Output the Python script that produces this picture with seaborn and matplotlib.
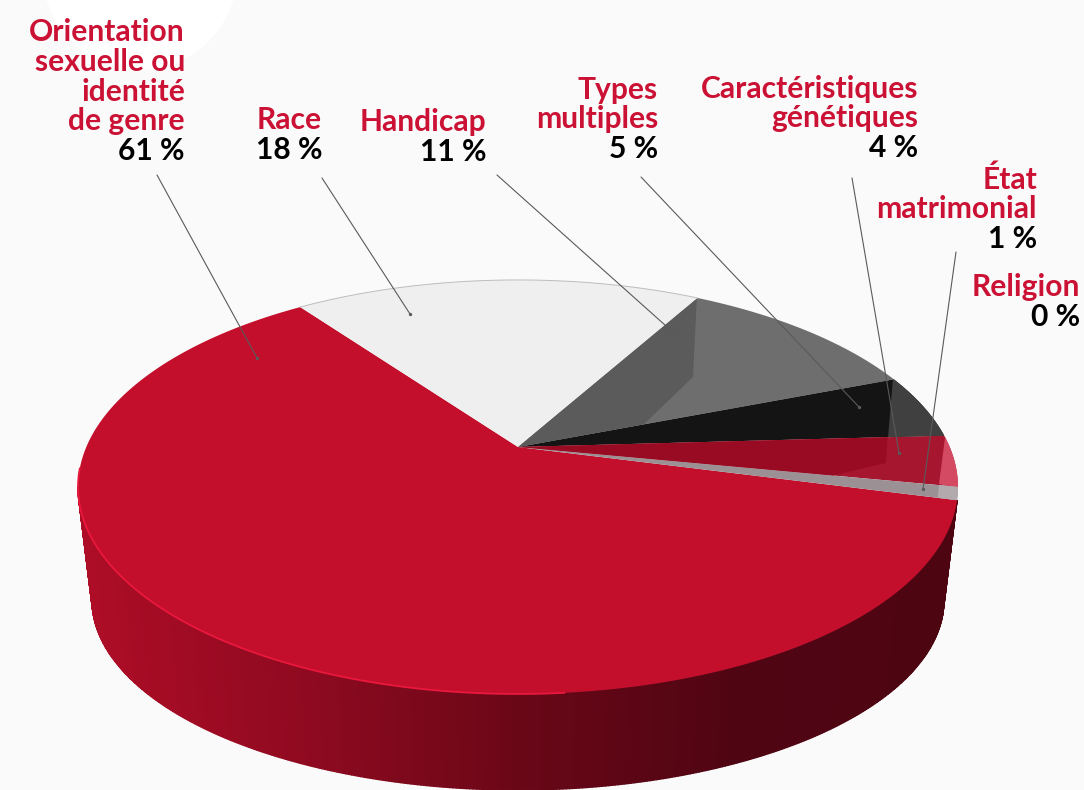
#!/usr/bin/env python3
import numpy as np
import matplotlib
matplotlib.use('Agg')
import matplotlib.pyplot as plt
import seaborn as sns
from matplotlib.patches import Ellipse
from matplotlib.path import Path
from matplotlib.transforms import Affine2D, Transform

# Data, in the order the slices run clockwise
categories = ['Orientation\nsexuelle ou\nidentité\nde genre', 'Race', 'Handicap', 'Types\nmultiples',
              'Caractéristiques\ngénétiques', 'État\nmatrimonial', 'Religion']
shares = [61, 18, 11, 5, 4, 1, 0]
slice_colors = ['#C30E2C', '#EFEFEF', '#6E6E6E', '#141414', '#A6172F', '#9B9195', '#9B9195']

# Layout in picture pixels
W, H = 1084, 790
APEX_X, APEX_Y = 518, 447
K, B, A = 0.193, 199.3, 431.7  # tilt of the disc
START = -14.7
label_right = [185, 322, 486, 658, 918, 1037, 1080]
label_base = [160, 159, 161, 158, 157, 248, 326]
leader_from = [(157, 175), (322, 178), (497, 175), (641, 177), (852, 178), (956, 252)]
leader_to = [(257, 358), (410, 314), (675, 334), (859, 407), (899, 453), (923, 489)]
LINE_H = 29.7

sns.set_theme(style='white')
plt.rcParams['font.family'] = ['Lato', 'DejaVu Sans']
RED_TEXT = '#CB1134'
FONT_SIZE = 21.6


def project(u, v):
    """Unit disc to picture pixels, with the perspective of the top face."""
    d = 1 + K * np.asarray(v)
    return APEX_X + A * np.asarray(u) / d, APEX_Y - B * np.asarray(v) / d


def project_bottom(u, v):
    x, y = project(u, v)
    return APEX_X + (x - APEX_X) * 426 / 440, 600 + (y - 487) * 190 / 207


class DiscTransform(Transform):
    input_dims = output_dims = 2
    is_separable = False

    def transform_non_affine(self, values):
        values = np.asarray(values, dtype=float)
        x, y = project(values[:, 0], values[:, 1])
        return np.column_stack([x, y])

    def transform_path_non_affine(self, path):
        polys = path.to_polygons(transform=Affine2D().scale(2000), closed_only=False)
        if not polys:
            return Path(np.zeros((2, 2)))
        return Path(self.transform_non_affine(polys[0] / 2000))


fig = plt.figure(figsize=(W / 100, H / 100), dpi=100, facecolor='#FAFAFA')
ax = fig.add_axes([0, 0, 1, 1])

wedges, _ = ax.pie(shares, colors=slice_colors, startangle=START, counterclock=False,
                   frame=True, wedgeprops={'linewidth': 0})
ax.set_aspect('auto')
ax.set_xlim(0, W)
ax.set_ylim(H, 0)
ax.axis('off')
ax.add_patch(Ellipse((140, -30), 196, 200, facecolor='white', edgecolor='none', zorder=0))

disc = DiscTransform() + ax.transData
for w in wedges:
    w.set_transform(disc)
    w.set_zorder(3)

# Side wall of the big slice, darkening from left to right
wall = sns.blend_palette(['#AD0D26', '#8F0A20', '#6A0717', '#500513', '#4E0512'], n_colors=400)
t1 = wedges[0].theta1 % 360
t2 = wedges[0].theta2 % 360
edges = np.radians(np.linspace(max(t1, 191), t2, 420))
for a0, a1 in zip(edges[:-1], edges[1:]):
    th = np.linspace(a0, a1, 3)
    xt, yt = project(np.cos(th), np.sin(th))
    xb, yb = project_bottom(np.cos(th), np.sin(th))
    i = int(np.clip((xt.mean() - 85) / (950 - 85) * 399, 0, 399))
    ax.fill(np.r_[xt, xb[::-1]], np.r_[yt, yb[::-1]], color=wall[i], lw=1.0, zorder=2)

# Bright rim on the left of the top face, thin edge on the back
th = np.radians(np.linspace(186, 275, 120))
ax.plot(*project(np.cos(th), np.sin(th)), color='#E9183C', lw=1.3, zorder=4)
th = np.radians(np.linspace(wedges[1].theta1, wedges[1].theta2, 60))
ax.plot(*project(np.cos(th), np.sin(th)), color='#BDBDBD', lw=0.7, zorder=4)

# Tone changes inside the small slices
tones = [
    (2, '#5B5B5B', [(518, 447), (697, 295), (693, 377), (643, 425), (518, 460)]),
    (3, '#404040', [(893, 378), (888, 438), (965, 438), (965, 378)]),
    (4, '#990B23', [(500, 430), (888, 430), (886, 463), (835, 475), (800, 500), (500, 500)]),
    (4, '#D44A62', [(946, 430), (939, 484), (965, 490), (965, 430)]),
    (5, '#B3AAAE', [(940, 475), (937, 505), (965, 505), (965, 475)]),
]
for idx, col, pts in tones:
    xs, ys = zip(*pts)
    for p in ax.fill(xs, ys, color=col, lw=0, zorder=3.5):
        p.set_clip_path(wedges[idx])

# Leader lines
for (x0, y0), (x1, y1) in zip(leader_from, leader_to):
    ax.plot([x0, x1], [y0, y1], color='#5A5A5A', lw=0.8, zorder=5)
    ax.plot([x1], [y1], 'o', color='#5A5A5A', ms=2.4, mew=0, zorder=5)

# Labels, set line by line from the bottom
for name, share, x, y in zip(categories, shares, label_right, label_base):
    ax.text(x, y, f'{share} %', ha='right', va='baseline', color='black',
            fontsize=FONT_SIZE, fontweight='bold', zorder=6)
    for n, line in enumerate(reversed(name.split('\n')), start=1):
        ax.text(x, y - n * LINE_H, line, ha='right', va='baseline', color=RED_TEXT,
                fontsize=FONT_SIZE, fontweight='bold', zorder=6)

fig.savefig('out.png', dpi=100, facecolor=fig.get_facecolor())
